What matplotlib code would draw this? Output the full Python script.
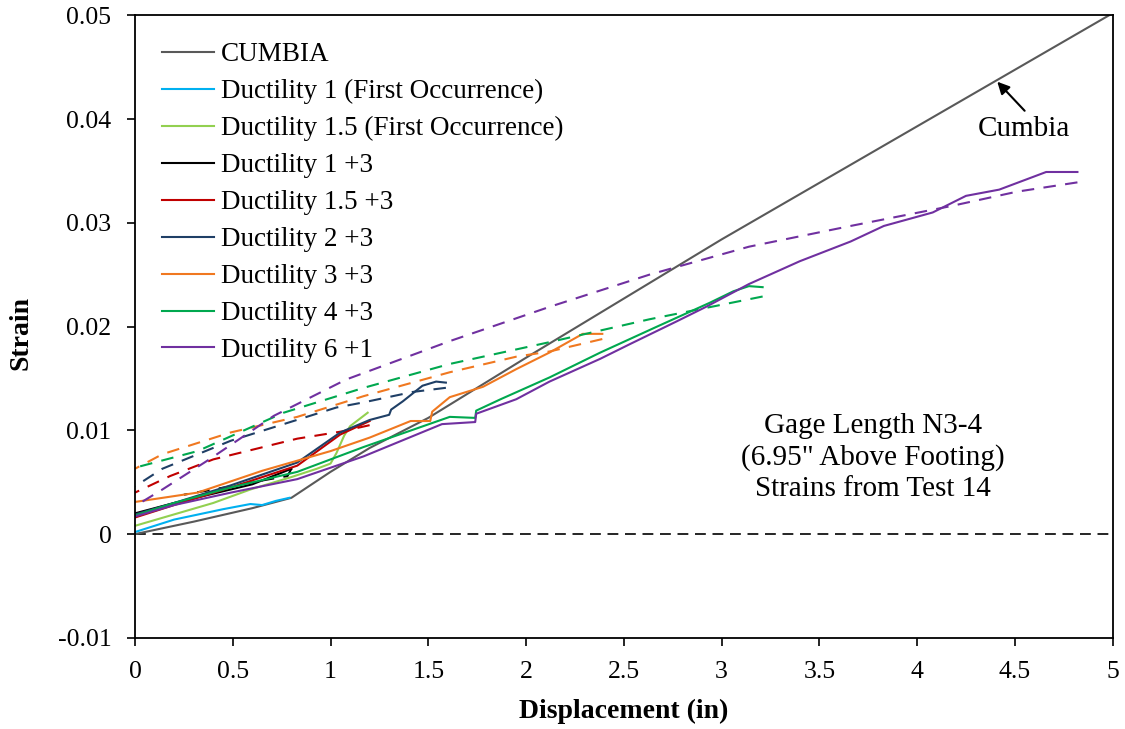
import numpy as np
import matplotlib.pyplot as plt

# values (displacement in, strain)
cumbia_x = [0, 0.3, 0.6, 0.8, 1.0, 1.2, 1.5, 2.0, 3.0, 4.0, 5.0]
cumbia_y = [0, 0.0012, 0.0025, 0.0035, 0.0060, 0.0083, 0.0112, 0.0170, 0.0284, 0.0393, 0.0502]

d1f_x = [0, 0.1, 0.2, 0.3, 0.45, 0.59, 0.65, 0.72, 0.79]
d1f_y = [0.0002, 0.0008, 0.0014, 0.0018, 0.0024, 0.0029, 0.0028, 0.0032, 0.0035]

d15f_x = [0, 0.2, 0.4, 0.59, 0.8, 0.93, 1.0, 1.03, 1.07, 1.1, 1.19]
d15f_y = [0.0008, 0.0019, 0.0030, 0.0043, 0.0055, 0.0063, 0.0068, 0.0078, 0.0095, 0.0104, 0.0117]

d1_x = [0, 0.2, 0.4, 0.6, 0.8]
d1_y = [0.0020, 0.0030, 0.0039, 0.0048, 0.0063]
d1_ux = [0.8, 0.78, 0.6, 0.4, 0.25]
d1_uy = [0.0063, 0.0056, 0.0050, 0.0043, 0.0038]

d15_x = [0, 0.2, 0.49, 0.83, 1.05, 1.2]
d15_y = [0.0016, 0.0028, 0.0045, 0.0066, 0.0096, 0.0109]
d15_ux = [1.2, 1.06, 0.83, 0.4, 0.18, 0]
d15_uy = [0.0105, 0.0099, 0.0092, 0.0072, 0.0056, 0.0040]

d2_x = [0, 0.2, 0.49, 0.83, 1.05, 1.2, 1.30, 1.31, 1.37, 1.47, 1.54, 1.59]
d2_y = [0.0019, 0.0030, 0.0047, 0.0069, 0.0098, 0.0110, 0.0115, 0.0120, 0.0128, 0.0143, 0.0147, 0.0146]
d2_ux = [1.59, 1.42, 1.17, 1.03, 0.49, 0.14, 0]
d2_uy = [0.0141, 0.0137, 0.0127, 0.0122, 0.0090, 0.0063, 0.0046]

d3_x = [0, 0.32, 0.65, 1.0, 1.2, 1.41, 1.51, 1.52, 1.61, 1.78, 1.95, 2.12, 2.29, 2.39]
d3_y = [0.0031, 0.0040, 0.0061, 0.0080, 0.0093, 0.0109, 0.0109, 0.0118, 0.0132, 0.0142, 0.0159, 0.0175, 0.0193, 0.0193]
d3_ux = [2.39, 2.12, 1.95, 1.61, 1.17, 0.83, 0.49, 0.14, 0]
d3_uy = [0.0188, 0.0176, 0.0171, 0.0156, 0.0133, 0.0113, 0.0098, 0.0077, 0.0063]

d4_x = [0, 0.2, 0.49, 0.83, 1.17, 1.61, 1.74, 1.745, 1.87, 2.12, 2.38, 2.67, 2.94, 3.06, 3.14, 3.21]
d4_y = [0.0018, 0.0030, 0.0045, 0.0060, 0.0084, 0.0113, 0.0112, 0.0119, 0.0130, 0.0151, 0.0175, 0.0200, 0.0223, 0.0234, 0.0239, 0.0238]
d4_ux = [3.21, 2.63, 2.12, 1.61, 1.17, 0.76, 0.32, 0]
d4_uy = [0.0229, 0.0207, 0.0185, 0.0164, 0.0141, 0.0117, 0.0080, 0.0064]

d6_x = [0, 0.2, 0.49, 0.83, 1.17, 1.57, 1.74, 1.745, 1.95, 2.12, 2.38, 2.53, 2.77, 2.92, 3.14, 3.40, 3.66, 3.83,
        4.08, 4.25, 4.42, 4.66, 4.82]
d6_y = [0.0017, 0.0028, 0.0040, 0.0053, 0.0075, 0.0106, 0.0108, 0.0116, 0.0130, 0.0147, 0.0169, 0.0183, 0.0205, 0.0219,
        0.0241, 0.0263, 0.0282, 0.0297, 0.0310, 0.0326, 0.0332, 0.0349, 0.0349]
d6_ux = [4.82, 4.51, 4.17, 3.66, 3.14, 2.63, 2.12, 1.61, 1.08, 0.71, 0.38, 0.14, 0]
d6_uy = [0.0339, 0.0330, 0.0316, 0.0297, 0.0277, 0.0250, 0.0219, 0.0186, 0.0149, 0.0114, 0.0072, 0.0043, 0.0027]

plt.rcParams['font.family'] = ['Liberation Serif', 'DejaVu Serif']

fig = plt.figure(figsize=(11.25, 7.29), dpi=100)
ax = fig.add_axes([0.12, 0.125, 0.869, 0.854])

ax.axhline(0, color='black', lw=1.2, ls=(0, (6.5, 4)))

ax.plot(cumbia_x, cumbia_y, color='#595959', lw=1.5, label='CUMBIA')
ax.plot(d1f_x, d1f_y, color='#00B0F0', lw=1.5, label='Ductility 1 (First Occurrence)')
ax.plot(d15f_x, d15f_y, color='#92D050', lw=1.5, label='Ductility 1.5 (First Occurrence)')

curves = [
    (d1_x, d1_y, d1_ux, d1_uy, 'black', 'Ductility 1 +3'),
    (d15_x, d15_y, d15_ux, d15_uy, '#C00000', 'Ductility 1.5 +3'),
    (d2_x, d2_y, d2_ux, d2_uy, '#1F3F66', 'Ductility 2 +3'),
    (d3_x, d3_y, d3_ux, d3_uy, '#F07820', 'Ductility 3 +3'),
    (d4_x, d4_y, d4_ux, d4_uy, '#00A84F', 'Ductility 4 +3'),
    (d6_x, d6_y, d6_ux, d6_uy, '#7030A0', 'Ductility 6 +1'),
]
for lx, ly, ux, uy, c, lab in curves:
    ax.plot(lx, ly, color=c, lw=1.5, label=lab)
    ax.plot(ux, uy, color=c, lw=1.5, ls=(0, (6, 4.5)))

ax.annotate('', xy=(4.41, 0.0436), xytext=(4.55, 0.0408),
            arrowprops=dict(arrowstyle='-|>', color='black', lw=1.5, shrinkA=0, shrinkB=0,
                            mutation_scale=18))
ax.text(4.545, 0.039, 'Cumbia', fontsize=21, ha='center', va='center')

ax.text(3.776, 0.0074, 'Gage Length N3-4\n(6.95" Above Footing)\nStrains from Test 14',
        fontsize=21, ha='center', va='center', linespacing=1.25)

ax.set_xlim(0, 5)
ax.set_ylim(-0.01, 0.05)
ax.set_xticks(np.arange(0, 5.01, 0.5))
ax.set_yticks(np.arange(-0.01, 0.0501, 0.01))
ax.set_xticklabels(['%g' % v for v in np.arange(0, 5.01, 0.5)])
ax.set_yticklabels(['%g' % round(v, 2) for v in np.arange(-0.01, 0.0501, 0.01)])
ax.tick_params(labelsize=18.5, direction='out', length=6, width=1.2, pad=11)
for s in ax.spines.values():
    s.set_linewidth(1.3)

ax.set_xlabel('Displacement (in)', fontsize=20, fontweight='bold')
ax.set_ylabel('Strain', fontsize=20, fontweight='bold')
ax.xaxis.set_label_coords(0.5, -0.1188)
ax.xaxis.label.set_verticalalignment('center')
ax.yaxis.set_label_coords(-0.1166, 0.49)
ax.yaxis.label.set_verticalalignment('center')

ax.legend(loc='upper left', frameon=False, fontsize=19.5, handlelength=1.9,
          handletextpad=0.26, labelspacing=0.44, borderaxespad=0,
          bbox_to_anchor=(0.017, 0.974))

fig.savefig('out.png', dpi=100)
